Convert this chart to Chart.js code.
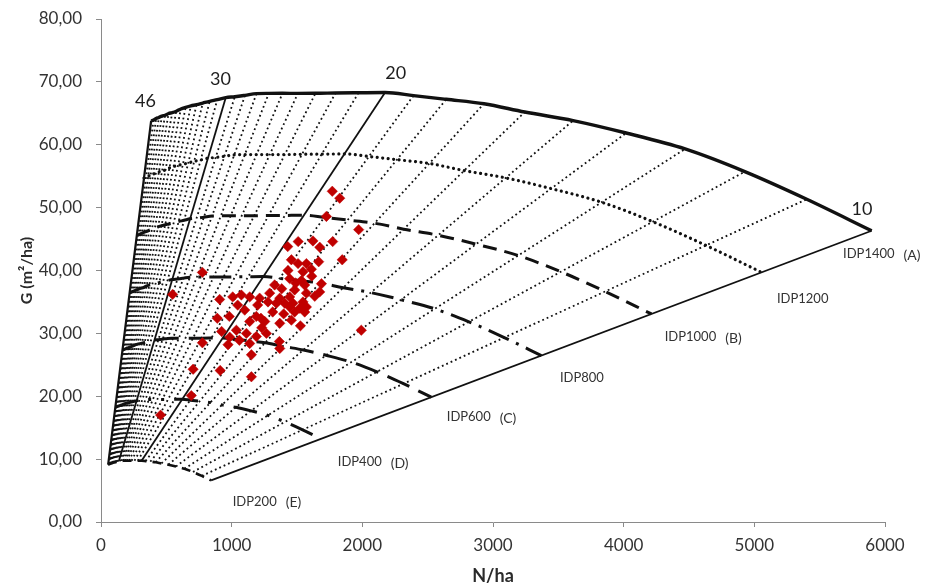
<!DOCTYPE html>
<html>
<head>
<meta charset="utf-8">
<title>Diagrama de manejo de densidad</title>
<script src="https://cdn.jsdelivr.net/npm/chart.js@4.4.1/dist/chart.umd.min.js"></script>
<style>
  html, body { margin: 0; padding: 0; background: #ffffff; }
  #wrap { width: 926px; height: 586px; position: relative; }
</style>
</head>
<body>
<div id="wrap"><canvas id="chart"></canvas></div>
<script>
// Quadratic mean diameter classes (cm) drawn as isolines
const diameters = [10, 11, 12, 13, 14, 15, 16, 17, 18, 19, 20, 21, 22, 23, 24, 25, 26, 27, 28,
                   29, 30, 31, 32, 33, 34, 35, 36, 37, 38, 39, 40, 41, 42, 43, 44, 45, 46];
// Stems per hectare on the IDP1400 boundary for each diameter class
const stemsAtIdp1400 = [5898, 5401, 4927, 4470, 4019, 3613, 3243, 2931, 2642, 2392, 2174, 1971,
                        1795, 1641, 1507, 1389, 1284, 1190, 1102, 1024, 955, 890, 832, 779, 731,
                        688, 648, 611, 576, 545, 517, 490, 466, 443, 422, 402, 384];
// Density index levels (IDP) and their class letters
const idpLevels = [1400, 1200, 1000, 800, 600, 400, 200];
const idpClasses = ['(A)', '', '(B)', '', '(C)', '(D)', '(E)'];
// Diameter isolines drawn as solid lines and labelled
const mainDiameters = [46, 30, 20, 10];

// Sampled stands: density (N/ha) and basal area (m2/ha)
const standsN = [1770, 1827, 1725, 1972, 1509, 1429, 1622, 1674, 1773, 1846, 1457, 1508, 1572, 1610,
                 1431, 1546, 1444, 1534, 1687, 1674, 1636, 1559, 1572, 1482, 1444, 1368, 1291, 1214,
                 1138, 1074, 1342, 1406, 1469, 1546, 1572, 1559, 1521, 1482, 1444, 1278, 1189, 1138,
                 1253, 1368, 1457, 1526, 1113, 1189, 1266, 1138, 1368, 1992, 1151, 982, 1046, 1008,
                 1059, 1365, 1224, 776, 548, 908, 890, 923, 776, 972, 705, 912, 691, 456, 1151, 1036,
                 985, 1383, 1666, 1100, 1230, 1314, 1398, 1613, 1490, 1329, 1199];
const standsG = [52.6, 51.5, 48.6, 46.5, 44.6, 43.8, 44.7, 43.7, 44.6, 41.7, 41.7, 41.1, 41.1, 40.2,
                 40.0, 39.8, 38.7, 38.4, 37.9, 36.6, 35.9, 37.7, 36.4, 36.9, 35.8, 35.6, 36.4, 35.6,
                 35.8, 36.1, 34.8, 34.8, 34.8, 35.0, 34.2, 33.4, 34.0, 33.4, 34.2, 35.0, 32.7, 31.9,
                 31.9, 31.6, 32.1, 31.2, 30.0, 29.5, 30.0, 28.4, 27.6, 30.5, 26.6, 32.7, 34.5, 35.8,
                 28.9, 28.7, 32.4, 39.7, 36.2, 35.4, 32.4, 30.3, 28.5, 28.2, 24.3, 24.1, 20.1, 17.0,
                 23.1, 30.5, 29.4, 37.1, 41.4, 33.7, 30.9, 33.4, 33.1, 39.1, 38.0, 37.7, 34.5];

// Axis tick values
const xTicks = [0, 1000, 2000, 3000, 4000, 5000, 6000];
const yTicks = [0, 10, 20, 30, 40, 50, 60, 70, 80];

// Text placed on the diagram (anchor in N/ha, G units)
const diameterLabels = [
  { text: '46', n: 341, g: 66.9 },
  { text: '30', n: 915, g: 70.4 },
  { text: '20', n: 2256, g: 71.4 },
  { text: '10', n: 5824, g: 49.8 }
];
const idpLabelAnchors = [[5679, 42.6], [5173, 35.5], [4314, 29.4], [3512, 22.9], [2646, 16.7], [1812, 9.5], [1008, 3.2]];

// Line style for each IDP curve
const idpStyles = {
  1400: { dash: [], width: 3.4, cap: 'butt' },
  1200: { dash: [0.01, 5.5], width: 3.2, cap: 'round' },
  1000: { dash: [14, 8], width: 3, cap: 'butt' },
  800:  { dash: [22, 8, 3, 8], width: 3, cap: 'butt' },
  600:  { dash: [24, 10], width: 3, cap: 'butt' },
  400:  { dash: [24, 10, 3, 10, 3, 10], width: 3, cap: 'butt' },
  200:  { dash: [9, 6], width: 2.6, cap: 'butt' }
};

const basalArea = (d, n) => Math.PI * d * d / 40000 * n;
const INK = '#111111';

const datasets = [];

// stands on top
datasets.push({
  label: 'Parcelas',
  data: standsN.map((n, i) => ({ x: n, y: standsG[i] })),
  pointStyle: 'rectRot',
  pointRadius: 5.2,
  pointBackgroundColor: '#c00000',
  pointBorderColor: '#c00000',
  pointBorderWidth: 0.5,
  showLine: false,
  order: 0
});

// diameter isolines, from the IDP200 curve to the IDP1400 curve
diameters.forEach((d, i) => {
  const nTop = stemsAtIdp1400[i];
  const nLow = nTop * idpLevels[idpLevels.length - 1] / idpLevels[0];
  const solid = mainDiameters.includes(d);
  datasets.push({
    label: 'Dg ' + d,
    data: [{ x: nLow, y: basalArea(d, nLow) }, { x: nTop, y: basalArea(d, nTop) }],
    showLine: true,
    pointRadius: 0,
    borderColor: INK,
    borderWidth: solid ? (d === 46 ? 2.2 : 1.8) : 1.8,
    borderDash: solid ? [] : [1.8, 3],
    order: solid ? 1 : 3
  });
});

// IDP curves
idpLevels.forEach(level => {
  const pts = [];
  for (let i = diameters.length - 1; i >= 0; i--) {
    const n = stemsAtIdp1400[i] * level / idpLevels[0];
    pts.push({ x: n, y: basalArea(diameters[i], n) });
  }
  const st = idpStyles[level];
  datasets.push({
    label: 'IDP' + level,
    data: pts,
    showLine: true,
    pointRadius: 0,
    borderColor: INK,
    borderWidth: st.width,
    borderDash: st.dash,
    borderCapStyle: st.cap,
    cubicInterpolationMode: 'monotone',
    order: 2
  });
});

const textLayer = {
  id: 'textLayer',
  afterDatasetsDraw(chart) {
    const { ctx, scales: { x, y } } = chart;
    ctx.save();
    ctx.textBaseline = 'middle';
    ctx.fillStyle = '#1e1e1e';
    ctx.textAlign = 'center';
    ctx.font = '18px Lato';
    diameterLabels.forEach(l => {
      ctx.fillText(l.text, x.getPixelForValue(l.n), y.getPixelForValue(l.g));
    });
    ctx.textAlign = 'left';
    ctx.fillStyle = '#333333';
    idpLevels.forEach((level, i) => {
      const px = x.getPixelForValue(idpLabelAnchors[i][0]);
      const py = y.getPixelForValue(idpLabelAnchors[i][1]);
      ctx.font = '13px Lato';
      const txt = 'IDP' + level;
      ctx.fillText(txt, px, py);
      if (idpClasses[i]) {
        const w = ctx.measureText(txt).width;
        ctx.font = '14px Lato';
        ctx.fillText(idpClasses[i], px + w + 9, py + 1);
      }
    });
    ctx.restore();
  }
};

const axisColor = '#8a8a8a';
const tickFont = { family: 'Lato', size: 17 };

new Chart(document.getElementById('chart'), {
  type: 'scatter',
  data: { datasets },
  options: {
    responsive: true,
    maintainAspectRatio: false,
    animation: false,
    events: [],
    layout: { padding: { top: 19, right: 41, bottom: 0, left: 0 } },
    plugins: { legend: { display: false }, tooltip: { enabled: false } },
    scales: {
      x: {
        type: 'linear',
        min: xTicks[0],
        max: xTicks[xTicks.length - 1],
        afterBuildTicks(scale) { scale.ticks = xTicks.map(v => ({ value: v })); },
        afterFit(scale) { scale.height = 64; scale.paddingLeft = 0; scale.paddingRight = 0; },
        grid: { display: true, drawOnChartArea: false, drawTicks: true, tickLength: 5, color: axisColor },
        border: { display: true, color: axisColor, width: 1 },
        ticks: { color: '#333333', font: tickFont, padding: 8, maxRotation: 0, callback: v => String(v) },
        title: { display: true, text: 'N/ha', color: '#2a2a2a', font: { family: 'Lato', size: 18, weight: 'bold' }, padding: { top: 0, bottom: -1 } }
      },
      y: {
        type: 'linear',
        min: yTicks[0],
        max: yTicks[yTicks.length - 1],
        afterBuildTicks(scale) { scale.ticks = yTicks.map(v => ({ value: v })); },
        afterFit(scale) { scale.width = 101; scale.paddingTop = 0; scale.paddingBottom = 0; },
        grid: { display: true, drawOnChartArea: false, drawTicks: true, tickLength: 5, color: axisColor },
        border: { display: true, color: axisColor, width: 1 },
        ticks: {
          color: '#333333', font: tickFont, padding: 14,
          callback: v => v.toFixed(2).replace('.', ',')
        },
        title: { display: true, text: 'G (m²/ha)', color: '#2a2a2a', font: { family: 'Lato', size: 16, weight: 'bold' }, padding: { top: 17, bottom: 0 } }
      }
    }
  },
  plugins: [textLayer]
});
</script>
</body>
</html>
